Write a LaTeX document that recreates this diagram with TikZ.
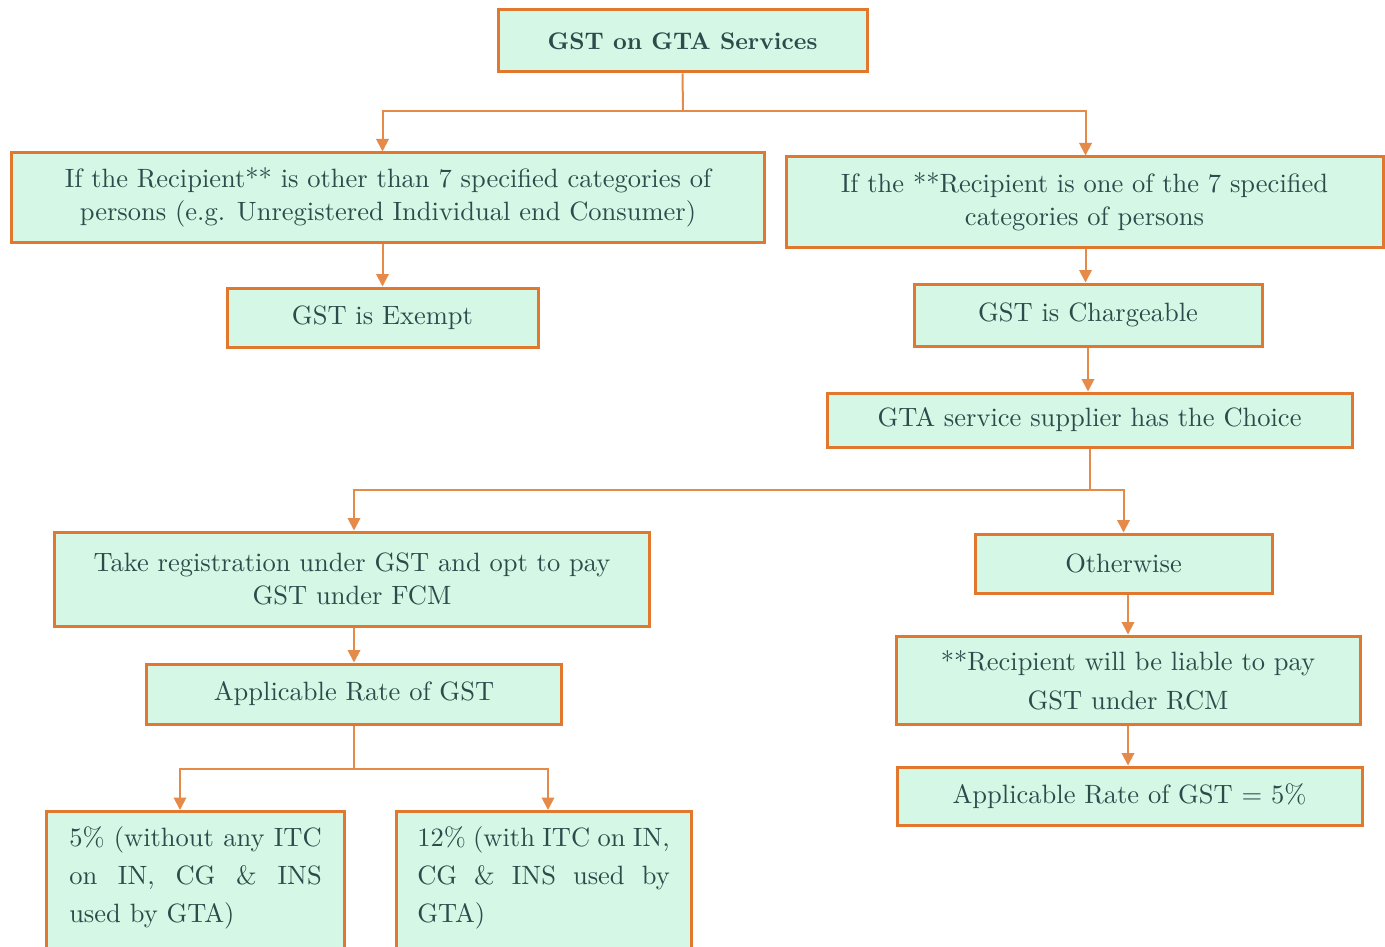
\documentclass[tikz,border=0pt]{standalone}
\usetikzlibrary{arrows.meta}
\definecolor{boxfill}{HTML}{D5F8E6}
\definecolor{boxdraw}{HTML}{E2782E}
\definecolor{linecol}{HTML}{E58A48}
\definecolor{txt}{HTML}{2C4B4B}
\newcommand{\spreadline}[1]{\leavevmode\hbox to \linewidth{#1}}
\tikzset{
  box/.style={draw=boxdraw, fill=boxfill, line width=1.2pt, inner sep=0pt,
    text=txt, font=\fontsize{10.6}{13.2}\selectfont, align=center},
  lowbox/.style={box, anchor=north, align=left, text width=101pt, inner xsep=0pt,
    inner ysep=6pt, font=\fontsize{10.6}{15.2}\selectfont},
  conn/.style={draw=linecol, line width=0.8pt},
  arr/.style={conn, -{Triangle[length=5pt,width=5pt]}, linecol},
}
\begin{document}
\begin{tikzpicture}[x=0.4pt,y=-0.4pt]
\useasboundingbox (0,0) rectangle (1385,946);
\clip (0,0) rectangle (1385,946);
\node[box, minimum width=147.6pt, minimum height=24.8pt, font=\fontsize{9.6}{13}\selectfont\bfseries] (top) at (682.5,41) {GST on GTA Services};
\node[box, minimum width=300.8pt, minimum height=35.6pt] (L1) at (388,197.5) {If the Recipient** is other than 7 specified categories of\\persons (e.g. Unregistered Individual end Consumer)};
\node[box, minimum width=238.8pt, minimum height=36pt] (R1) at (1084.5,202) {If the **Recipient is one of the 7 specified\\categories of persons};
\node[box, minimum width=124.4pt, minimum height=23.6pt] (exempt) at (382.5,317.5) {GST is Exempt};
\node[box, minimum width=139.2pt, minimum height=24.8pt] (charge) at (1088,315) {GST is Chargeable};
\node[box, minimum width=210pt, minimum height=21.6pt] (choice) at (1089.5,420) {GTA service supplier has the Choice};
\node[box, minimum width=237.6pt, minimum height=37.6pt] (take) at (352,579) {Take registration under GST and opt to pay\\GST under FCM};
\node[box, minimum width=118.8pt, minimum height=23.6pt] (other) at (1123.5,563.5) {Otherwise};
\node[box, minimum width=185.6pt, minimum height=35.2pt, font=\fontsize{10.6}{15.6}\selectfont] (recip) at (1128,680) {**Recipient will be liable to pay\\GST under RCM};
\node[box, minimum width=186pt, minimum height=23.2pt] (rate5) at (1129.5,796) {Applicable Rate of GST = 5\%};
\node[box, minimum width=165.6pt, minimum height=24pt] (rate) at (354,694) {Applicable Rate of GST};
\node[lowbox, minimum width=118.8pt] (b5) at (195.5,810)
  {\spreadline{5\%\hfil (without\hfil any\hfil ITC}\\\spreadline{on\hfil IN,\hfil CG\hfil \&\hfil INS}\\used by GTA)\\\rule{0pt}{30pt}};
\node[lowbox, minimum width=118pt] (b12) at (543.5,810)
  {\spreadline{12\%\hfil (with\hfil ITC\hfil on\hfil IN,}\\\spreadline{CG\hfil \&\hfil INS\hfil used\hfil by}\\GTA)\\\rule{0pt}{30pt}};
% connectors
\coordinate (j1) at (683,111);
\draw[conn] (top.south) -- (j1);
\draw[arr] (j1) -| (L1.north -| exempt.north);
\draw[arr] (j1) -| ([xshift=0.4pt]R1.north);
\draw[arr] (L1.south -| exempt.north) -- (exempt.north);
\draw[arr] ([xshift=0.4pt]R1.south) -- ([xshift=0.4pt]R1.south |- charge.north);
\draw[arr] (charge.south) -- (charge.south |- choice.north);
\coordinate (j2) at (1090,490);
\draw[conn] (choice.south -| j2) -- (j2);
\draw[arr] (j2) -| (take.north -| rate.north);
\draw[arr] (j2) -| (other.north);
\draw[arr] (take.south -| rate.north) -- (rate.north);
\draw[arr] (other.south -| recip.north) -- (recip.north);
\draw[arr] (recip.south) -- (recip.south |- rate5.north);
\coordinate (j3) at (354,769);
\draw[conn] (rate.south) -- (j3);
\draw[arr] (j3) -| ([xshift=-6.2pt]b5.north);
\draw[arr] (j3) -| ([xshift=1.8pt]b12.north);
\end{tikzpicture}
\end{document}
